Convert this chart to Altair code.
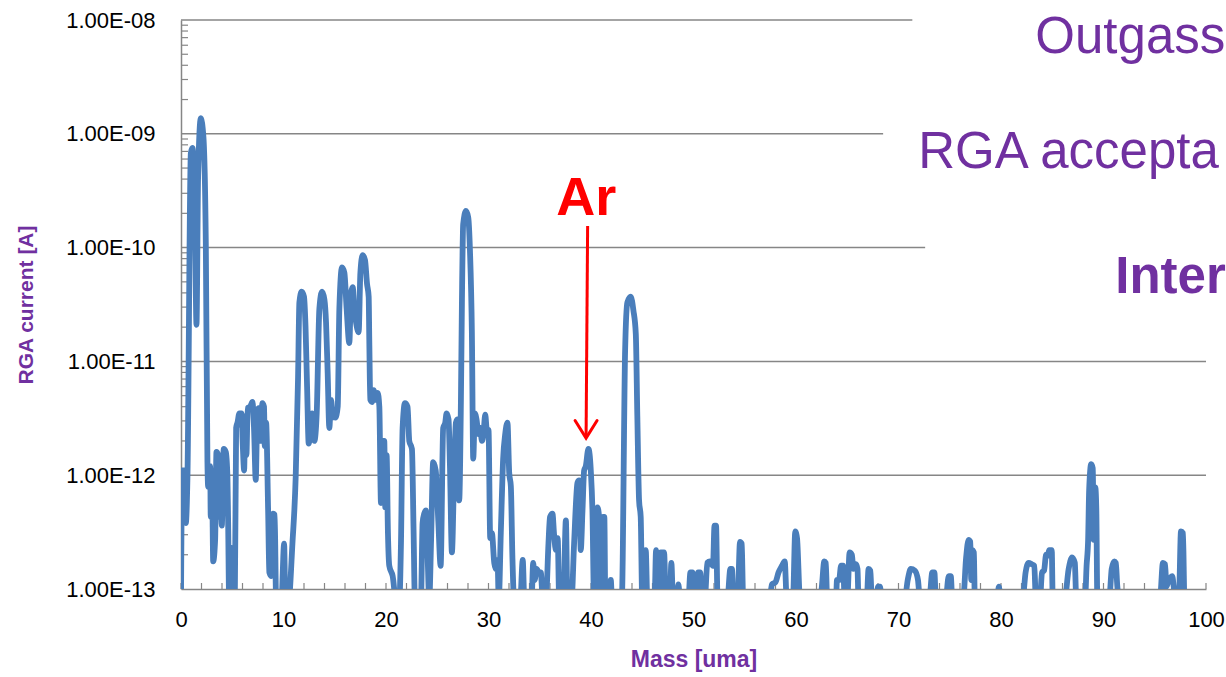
import altair as alt
import pandas as pd

B = 8e-14  # below the 1.00E-13 floor (clipped)

mass = [
    0.00, 0.12, 0.37, 0.47, 0.63, 0.96, 1.12, 1.35, 1.51, 1.67, 1.93, 2.19, 2.42, 2.58, 2.65, 2.85, 2.90,
    3.04, 3.14, 3.33, 3.46, 3.63, 3.69, 3.82, 3.98, 4.17, 4.37, 4.53, 4.60, 4.70, 4.92, 5.05, 5.25, 5.38,
    5.51, 5.70, 5.90, 6.03, 6.16, 6.26, 6.38, 6.51, 6.74, 6.97, 7.13, 7.29, 7.46, 7.68, 7.78, 7.94, 8.10,
    8.17, 8.30, 8.50, 8.62, 8.82, 8.98, 9.14, 9.28, 9.80, 10.06, 10.18, 10.50, 10.87, 11.19, 11.42, 11.55,
    11.77, 12.00, 12.15, 12.30, 12.46, 12.79, 13.01, 13.24, 13.50, 13.76, 13.99, 14.15, 14.31, 14.47, 14.64,
    14.80, 15.06, 15.29, 15.45, 15.71, 15.94, 16.16, 16.42, 16.59, 16.75, 16.91, 17.08, 17.33, 17.50, 17.72,
    17.95, 18.15, 18.31, 18.37, 18.47, 18.64, 18.80, 18.96, 19.19, 19.35, 19.51, 19.67, 19.83, 19.93, 20.06,
    20.19, 20.32, 20.65, 20.97, 21.30, 21.46, 21.62, 21.85, 22.10, 22.27, 22.53, 22.69, 22.82, 23.41, 23.57,
    23.73, 23.90, 24.05, 24.22, 24.40, 24.60, 24.85, 25.10, 25.33, 25.58, 25.78, 25.91, 26.10, 26.24, 26.43,
    26.66, 26.82, 26.98, 27.14, 27.31, 27.41, 27.53, 27.80, 28.02, 28.19, 28.38, 28.51, 28.67, 28.83, 29.03,
    29.19, 29.36, 29.51, 29.68, 29.84, 30.00, 30.17, 30.33, 30.56, 30.72, 30.88, 31.00, 31.20, 31.43, 31.63,
    31.85, 32.02, 32.18, 32.34, 32.50, 33.10, 33.34, 33.50, 34.20, 34.36, 34.50, 34.70, 34.90, 35.10, 35.30,
    35.60, 35.85, 36.00, 36.24, 36.40, 36.57, 36.75, 36.90, 37.30, 37.55, 37.70, 38.10, 38.35, 38.68, 38.84,
    39.00, 39.17, 39.33, 39.49, 39.75, 39.98, 40.14, 40.30, 40.47, 40.63, 40.79, 40.95, 41.18, 41.30, 41.40,
    41.80, 41.93, 42.05, 43.00, 43.33, 43.55, 43.88, 44.14, 44.37, 44.52, 44.69, 44.85, 45.00, 45.20, 45.34,
    45.50, 46.20, 46.35, 46.50, 46.70, 46.80, 47.13, 47.30, 47.70, 47.84, 48.00, 48.40, 48.52, 48.70, 49.50,
    49.70, 49.90, 50.05, 50.30, 50.45, 50.65, 50.80, 51.10, 51.35, 51.60, 51.90, 52.05, 52.20, 52.35, 53.30,
    53.60, 53.75, 53.90, 54.30, 54.54, 54.70, 54.85, 57.40, 57.66, 58.00, 58.30, 58.63, 58.90, 59.10, 59.70,
    59.93, 60.10, 60.40, 62.20, 62.50, 62.76, 62.90, 63.05, 63.90, 64.00, 64.20, 64.40, 64.60, 64.75, 65.00,
    65.23, 65.45, 65.60, 65.85, 66.00, 66.10, 66.90, 67.08, 67.25, 67.40, 67.85, 68.00, 68.20, 68.35, 70.60,
    70.90, 71.20, 71.60, 71.90, 72.10, 73.00, 73.30, 73.50, 73.65, 74.60, 74.90, 75.10, 75.25, 76.30, 76.60,
    76.84, 77.00, 77.10, 77.20, 77.35, 77.45, 79.60, 79.80, 79.95, 82.10, 82.40, 82.70, 83.00, 83.25, 83.40,
    83.80, 84.00, 84.20, 84.40, 84.55, 84.70, 84.95, 85.05, 86.20, 86.60, 86.93, 87.20, 87.35, 88.20, 88.35,
    88.50, 88.60, 88.80, 88.95, 89.05, 89.20, 89.30, 89.40, 90.55, 90.80, 91.05, 91.20, 91.35, 91.60, 95.50,
    95.80, 96.00, 96.15, 96.30, 96.70, 96.85, 97.00, 97.35, 97.56, 97.75, 97.90, 98.20,
]

current = [
    B, 1.1e-12, 1.1e-12, 3.8e-13, 9.7e-13, 6.8e-10, 7.5e-10, 2.1e-10, 2.1e-11, 4.2e-10, 1.37e-9, 9.3e-10, 1.1e-10, 1.3e-12, 7.9e-13, 1.2e-12, 4.3e-13,
    7.0e-13, 1.75e-13, 2.7e-13, 1.6e-12, 1.5e-12, 4.3e-13, 1.1e-12, 3.6e-13, 1.7e-12, 1.6e-12, 9.7e-13, 3.8e-13, B, 2.3e-13, B, B, 2.6e-12,
    2.9e-12, 3.5e-12, 3.5e-12, 1.8e-12, 1.1e-12, 3.3e-12, 1.5e-12, 3.9e-12, 4.0e-12, 4.4e-12, 2.5e-12, 9.1e-13, 3.8e-12, 3.9e-12, 2.0e-12, 4.3e-12, 4.0e-12,
    1.8e-12, 2.9e-12, 4.9e-13, 1.4e-13, 1.3e-13, 4.6e-13, 4.5e-13, B, B, 2.5e-13, B, B, 2.5e-13, 9.7e-13, 7.2e-12, 3.3e-11,
    4.1e-11, 3.7e-11, 2.0e-11, 6.0e-12, 1.9e-12, 3.5e-12, 2.0e-12, 3.5e-12, 2.9e-11, 4.1e-11, 3.5e-11, 2.2e-11, 7.9e-12, 2.6e-12, 4.6e-12,
    3.3e-12, 3.2e-12, 4.0e-12, 2.9e-11, 6.7e-11, 6.0e-11, 2.9e-11, 1.45e-11, 4.0e-11, 4.5e-11, 2.9e-11, 2.2e-11, 1.8e-11, 6.0e-11, 8.6e-11,
    7.8e-11, 4.8e-11, 3.7e-11, 1.54e-11, 4.6e-12, 4.4e-12, 5.6e-12, 4.6e-12, 5.3e-12, 4.0e-12, 5.7e-13, 2.0e-12, 2.0e-12, 5.2e-13, 1.5e-12,
    3.1e-13, 1.6e-13, 1.3e-13, B, B, 2.5e-13, 2.6e-12, 4.3e-12, 4.0e-12, 2.0e-12, 1.7e-12, 3.3e-13, B, B, 3.8e-13,
    4.6e-13, 4.9e-13, 2.1e-13, B, 2.7e-13, 1.3e-12, 1.1e-12, 4.0e-13, 1.6e-13, 2.6e-12, 2.9e-12, 3.5e-12, 3.1e-12, 1.2e-12, 2.1e-13,
    1.2e-12, 2.9e-12, 3.1e-12, 6.0e-13, 4.6e-12, 3.5e-11, 1.6e-10, 2.1e-10, 1.85e-10, 9.5e-11, 1.75e-11, 1.4e-12, 3.5e-12, 3.1e-12, 2.3e-12,
    2.6e-12, 2.0e-12, 2.3e-12, 3.4e-12, 2.5e-12, 2.5e-12, 2.8e-13, 3.1e-13, 1.7e-13, 1.5e-13, 1.8e-13, B, 3.1e-13, 1.4e-12, 2.3e-12,
    2.9e-12, 1.05e-12, 8.0e-13, 1.8e-13, B, B, 1.8e-13, B, B, 1.7e-13, 1.2e-13, 1.5e-13, 1.4e-13, 1.4e-13, B,
    B, 2.5e-13, 4.3e-13, 4.6e-13, 3.0e-13, 2.2e-13, 2.8e-13, B, B, 4.0e-13, B, B, 2.5e-13, 8.6e-13, 9.0e-13,
    2.2e-13, 4.9e-13, 1.1e-12, 1.2e-12, 1.7e-12, 1.1e-12, 4.9e-13, B, 2.2e-13, 5.2e-13, 4.3e-13, B, 4.3e-13, 4.3e-13, B,
    B, 1.2e-13, B, B, 1.26e-11, 3.3e-11, 3.7e-11, 2.8e-11, 1.75e-11, 3.3e-12, 6.0e-13, 4.3e-13, B, B, 2.2e-13,
    B, B, 2.2e-13, B, B, 2.1e-13, 2.1e-13, B, B, 1.7e-13, B, B, 1.1e-13, B, B,
    1.4e-13, 1.4e-13, B, B, 1.4e-13, 1.4e-13, B, B, 1.7e-13, 1.75e-13, 1.6e-13, 3.6e-13, 3.6e-13, B, B,
    1.5e-13, 1.5e-13, B, B, 2.6e-13, 2.5e-13, B, B, 1.1e-13, 1.15e-13, 1.4e-13, 1.6e-13, 1.75e-13, B, B,
    3.2e-13, 2.8e-13, B, B, 1.0e-13, 1.75e-13, 1.7e-13, B, B, 1.2e-13, 1.2e-13, 1.6e-13, 1.6e-13, B, B,
    2.1e-13, 2.0e-13, 1.5e-13, 1.65e-13, 1.5e-13, B, B, 1.5e-13, 1.45e-13, B, B, 1.05e-13, 1.05e-13, B, B,
    1.2e-13, 1.5e-13, 1.45e-13, 1.2e-13, B, B, 1.4e-13, 1.4e-13, B, B, 1.3e-13, 1.3e-13, B, B, 1.9e-13,
    2.7e-13, 2.6e-13, 1.2e-13, 2.2e-13, 2.1e-13, B, B, 1.05e-13, B, B, 1.4e-13, 1.7e-13, 1.65e-13, 1.6e-13, B,
    B, 1.4e-13, 1.45e-13, 2.0e-13, 1.95e-13, 2.2e-13, 2.2e-13, B, B, 1.5e-13, 1.9e-13, 1.7e-13, B, B, 1.6e-13,
    2.7e-13, 7.4e-13, 1.25e-12, 1.15e-12, 2.7e-13, 7.8e-13, 5.0e-13, B, B, 1.5e-13, 1.75e-13, 1.7e-13, 1.05e-13, B, B,
    1.7e-13, 1.65e-13, 1.05e-13, 1.15e-13, 1.3e-13, 1.05e-13, B, B, 3.2e-13, 3.1e-13, B, B,
]

decades = [1e-13, 1e-12, 1e-11, 1e-10, 1e-9, 1e-8]
grid_levels = [1e-12, 1e-11, 1e-10, 1e-9, 1e-8]
grid_start = [0, 0, 0, 0, 0]
grid_end = [100, 100, 72.6, 68.5, 71.35]
y_minor = [k * 10.0 ** n for n in range(-13, -8) for k in range(2, 10)]
x_minor = list(range(0, 101, 2))
x_labels = list(range(0, 101, 10))

# Ar annotation
ar_label = ["Ar"]
ar_mass = [39.54]
ar_level = [1.93e-10]
arrow_mass = [39.67]
arrow_top = [1.55e-10]
arrow_tip_mass = [39.52]
arrow_tip = [2.12e-12]

# overlaid slide text (clipped at the right edge)
overlay_text = ["Outgass", "RGA accepta"]
overlay_mass = [83.35, 71.93]
overlay_level = [5.1e-9, 5.0e-10]
bold_text = ["Inter"]
bold_mass = [91.15]
bold_level = [3.98e-11]

PURPLE = "#7030A0"
GRAY = "#868686"
FONT = "Liberation Sans"

xs = alt.Scale(domain=[0, 100], nice=False, zero=False)
ys = alt.Scale(type="log", domain=[1e-13, 1e-8], nice=False)

df = pd.DataFrame({"mass": mass, "current": current})

exp_expr = "round(-log(datum.value)/LN10)"
yaxis = alt.Axis(
    values=decades,
    labelExpr="'1.00E-' + (" + exp_expr + " < 10 ? '0' : '') + " + exp_expr,
    grid=False, ticks=False, labelFlush=False,
    domainColor=GRAY, domainWidth=1.5,
    labelFont=FONT, labelFontSize=22, labelColor="#000000", labelPadding=26,
    title="RGA current [A]", titleColor=PURPLE, titleFont=FONT, titleFontSize=21,
    titleFontWeight="bold", titlePadding=29,
)
xaxis = alt.Axis(
    values=x_labels, format="d",
    grid=False, ticks=False, labelFlush=False,
    domainColor=GRAY, domainWidth=1.5,
    labelFont=FONT, labelFontSize=22, labelColor="#000000", labelPadding=20,
    title="Mass [uma]", titleColor=PURPLE, titleFont=FONT, titleFontSize=23,
    titleFontWeight="bold", titlePadding=18,
)


def X(field):
    return alt.X(field, scale=xs, axis=xaxis, title="Mass [uma]")


def Y(field):
    return alt.Y(field, scale=ys, axis=yaxis, title="RGA current [A]")


grid = alt.Chart(pd.DataFrame({"level": grid_levels, "start": grid_start, "end": grid_end})).mark_rule(
    color=GRAY, strokeWidth=1.5
).encode(x=X("start:Q"), x2="end:Q", y=Y("level:Q"))

yticks = alt.Chart(pd.DataFrame({"v": y_minor})).mark_rule(color=GRAY, strokeWidth=1.2).encode(
    y=Y("v:Q"), x=alt.value(0), x2=alt.value(7)
)
xticks = alt.Chart(pd.DataFrame({"v": x_minor})).mark_rule(color=GRAY, strokeWidth=1.2).encode(
    x=X("v:Q"), y=alt.value(569), y2=alt.value(563)
)

line = alt.Chart(df).mark_line(
    clip=True, color="#4A7EBB", strokeWidth=5.8, interpolate="monotone",
    strokeCap="round", strokeJoin="round",
).encode(x=X("mass:Q"), y=Y("current:Q"))

arrow = alt.Chart(pd.DataFrame({
    "x1": arrow_mass, "y1": arrow_top, "x2": arrow_tip_mass, "y2": arrow_tip
})).mark_rule(color="#FF0000", strokeWidth=3).encode(
    x=X("x1:Q"), x2="x2:Q", y=Y("y1:Q"), y2="y2:Q",
)
head = alt.Chart(pd.DataFrame({"x": arrow_tip_mass, "y": arrow_tip})).mark_point(
    shape="M-1,-1.6L0,0L1,-1.6", filled=False, stroke="#FF0000", strokeWidth=3,
    size=484, opacity=1, strokeCap="round", strokeJoin="miter",
).encode(x=X("x:Q"), y=Y("y:Q"))
ar = alt.Chart(pd.DataFrame({"t": ar_label, "x": ar_mass, "y": ar_level})).mark_text(
    align="center", baseline="alphabetic", font=FONT, fontSize=54, fontWeight="bold", color="#FF0000"
).encode(x=X("x:Q"), y=Y("y:Q"), text="t:N")

overlay = alt.Chart(pd.DataFrame({"t": overlay_text, "x": overlay_mass, "y": overlay_level})).mark_text(
    align="left", baseline="alphabetic", font=FONT, fontSize=51, color=PURPLE
).encode(x=X("x:Q"), y=Y("y:Q"), text="t:N")
overlay_b = alt.Chart(pd.DataFrame({"t": bold_text, "x": bold_mass, "y": bold_level})).mark_text(
    align="left", baseline="alphabetic", font=FONT, fontSize=51, fontWeight="bold", color=PURPLE
).encode(x=X("x:Q"), y=Y("y:Q"), text="t:N")

chart = alt.layer(grid, yticks, xticks, line, arrow, head, ar, overlay, overlay_b).properties(
    width=1025, height=569,
    autosize=alt.AutoSizeParams(type="none"),
    padding={"left": 181, "top": 20, "right": 20, "bottom": 88},
    background="white",
).configure_view(stroke="transparent")

chart.save("out.html", embed_options={"renderer": "svg", "actions": False})
